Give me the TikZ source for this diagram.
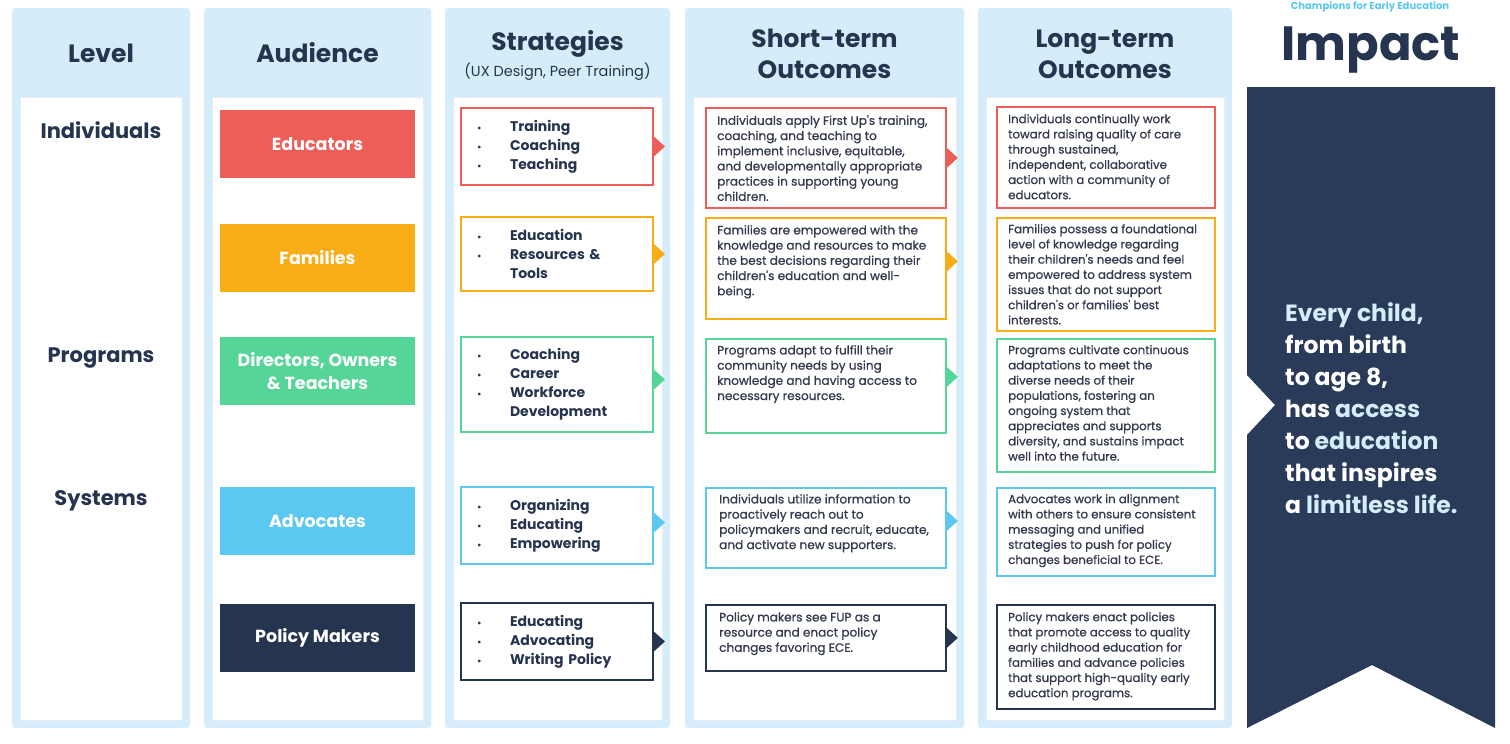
\documentclass[tikz,border=0pt]{standalone}
\usepackage{fontspec}
\setmainfont{Poppins}
\newfontfamily\bodyf[FakeBold=0.8]{Poppins}
\usetikzlibrary{calc}
\definecolor{panel}{HTML}{D5EDFA}
\definecolor{navy}{HTML}{26354F}
\definecolor{cred}{HTML}{EE5E58}
\definecolor{corange}{HTML}{F8AC16}
\definecolor{cgreen}{HTML}{55D598}
\definecolor{cblue}{HTML}{5BC8F2}
\definecolor{ribbon}{HTML}{2A3B5A}
\definecolor{bodytext}{HTML}{333A4D}
\definecolor{lightblue}{HTML}{D3EDFA}
\definecolor{innerline}{HTML}{E6EEF3}
\newcommand{\fs}[2]{\fontsize{#1}{#2}\selectfont}
\newcommand{\bl}[1]{\makebox[33pt][l]{\fs{9}{19}\textbullet}#1}
\newcommand{\nb}[1]{\makebox[33pt][l]{}#1}
\newcommand{\tri}[3]{\fill[#1] ([yshift=#3+10]#2.east) -- ([xshift=11,yshift=#3]#2.east) -- ([yshift=#3-10]#2.east) -- cycle;}
\begin{document}
\begin{tikzpicture}[x=1pt,y=-1pt,
  hdr/.style={text=navy,font=\bfseries\fs{25}{31},align=center},
  lvl/.style={text=navy,font=\bfseries\fs{21}{25}},
  aud/.style={fill=#1,text=white,font=\bfseries\fs{17.5}{23},align=center,minimum width=195,minimum height=68,inner sep=0},
  sbox/.style={draw=#1,line width=1.8pt,fill=white,minimum width=192,align=left,text width=160,inner xsep=16,inner ysep=0,text=navy,font=\bfseries\fs{14}{19}},
  obox/.style={draw=#1,line width=1.8pt,fill=white,inner sep=0},
  stxt/.style={anchor=north west,align=left,text=bodytext,inner sep=0,font=\bodyf\fs{12.1}{15.2}},
  ltxt/.style={anchor=north west,align=left,text=bodytext,inner sep=0,font=\bodyf\fs{11.8}{15.2}}
]
\clip (0,0) rectangle (1510,744);
\fill[white] (0,0) rectangle (1510,744);
% column panels
\foreach \a/\b in {12/190,204/431,445/670,685/964,978/1232}{
  \fill[panel,rounded corners=3] (\a,8) rectangle (\b,728);
  \filldraw[fill=white,draw=innerline,line width=1pt] (\a+8,97) rectangle (\b-8,720);
}
% headers
\node[hdr] (hLevel) at (101,53) {Level};
\node[hdr] (hAud) at (317.5,53) {Audience};
\node[hdr] (hStr) at (557.5,44) {Strategies};
\node[text=navy,font=\fs{14.5}{16}] (hStrSub) at (557.5,72) {(UX Design, Peer Training)};
\node[hdr] (hShort) at (824.5,54) {Short-term\\Outcomes};
\node[hdr] (hLong) at (1105,54) {Long-term\\Outcomes};
\node[text=navy,font=\bfseries\fs{48}{50}] (hImp) at (1371,50) {Impact};
\node[text=cblue,font=\bfseries\fs{10}{12}] (tag) at (1370,7) {Champions for Early Education};
% level labels
\node[lvl] (lInd) at (101,130) {Individuals};
\node[lvl] (lProg) at (101,358) {Programs};
\node[lvl] (lSys) at (101,501) {Systems};
% audience
\node[aud=cred] (aEdu) at (317.5,144) {Educators};
\node[aud=corange] (aFam) at (317.5,257.5) {Families};
\node[aud=cgreen] (aDir) at (317.5,371) {Directors, Owners\\\& Teachers};
\node[aud=cblue] (aAdv) at (317.5,521) {Advocates};
\node[aud=navy] (aPol) at (317.5,638) {Policy Makers};
% strategies
\node[sbox=cred,minimum height=77] (s1) at (557,146.5) {\bl{Training}\\\bl{Coaching}\\\bl{Teaching}};
\node[sbox=corange,minimum height=74] (s2) at (557,254) {\bl{Education}\\\bl{Resources \&}\\\nb{Tools}};
\node[sbox=cgreen,minimum height=95] (s3) at (557,384.5) {\bl{Coaching}\\\bl{Career}\\\bl{Workforce}\\\nb{Development}};
\node[sbox=cblue,minimum height=77] (s4) at (557,525.5) {\bl{Organizing}\\\bl{Educating}\\\bl{Empowering}};
\node[sbox=navy,minimum height=77] (s5) at (557,641.5) {\bl{Educating}\\\bl{Advocating}\\\bl{Writing Policy}};
\tri{cred}{s1}{0}
\tri{corange}{s2}{0}
\tri{cgreen}{s3}{5}
\tri{cblue}{s4}{3}
\tri{navy}{s5}{0}
% short-term outcomes
\node[obox=cred,minimum width=240,minimum height=100,anchor=north west] (o1) at (705,107) {};
\node[obox=corange,minimum width=240,minimum height=101,anchor=north west] (o2) at (705,217) {};
\node[obox=cgreen,minimum width=240,minimum height=94,anchor=north west] (o3) at (705,338) {};
\node[obox=cblue,minimum width=240,minimum height=80,anchor=north west] (o4) at (705,487) {};
\node[obox=navy,minimum width=240,minimum height=66,anchor=north west] (o5) at (705,604) {};
\tri{cred}{o1}{0}
\tri{corange}{o2}{7}
\tri{cgreen}{o3}{9}
\tri{cblue}{o4}{7}
\tri{navy}{o5}{0}
\node[stxt] (o1t) at (717,115) {Individuals apply First Up's training,\\coaching, and teaching to\\implement inclusive, equitable,\\and developmentally appropriate\\practices in supporting young\\children.};
\node[stxt] (o2t) at (717,225) {Families are empowered with the\\knowledge and resources to make\\the best decisions regarding their\\children's education and well-\\being.};
\node[stxt] (o3t) at (717,345) {Programs adapt to fulfill their\\community needs by using\\knowledge and having access to\\necessary resources.};
\node[stxt] (o4t) at (719,494) {Individuals utilize information to\\proactively reach out to\\policymakers and recruit, educate,\\and activate new supporters.};
\node[stxt] (o5t) at (719,612) {Policy makers see FUP as a\\resource and enact policy\\changes favoring ECE.};
% long-term outcomes
\node[obox=cred,minimum width=218,minimum height=101,anchor=north west] (l1) at (996,106) {};
\node[obox=corange,minimum width=218,minimum height=113,anchor=north west] (l2) at (996,217) {};
\node[obox=cgreen,minimum width=218,minimum height=133,anchor=north west] (l3) at (996,338) {};
\node[obox=cblue,minimum width=218,minimum height=88,anchor=north west] (l4) at (996,487) {};
\node[obox=navy,minimum width=218,minimum height=104,anchor=north west] (l5) at (996,604) {};
\node[ltxt] (l1t) at (1008,114) {Individuals continually work\\toward raising quality of care\\through sustained,\\independent, collaborative\\action with a community of\\educators.};
\node[ltxt] (l2t) at (1008,224) {Families possess a foundational\\level of knowledge regarding\\their children's needs and feel\\empowered to address system\\issues that do not support\\children's or families' best\\interests.};
\node[ltxt] (l3t) at (1008,345) {Programs cultivate continuous\\adaptations to meet the\\diverse needs of their\\populations, fostering an\\ongoing system that\\appreciates and supports\\diversity, and sustains impact\\well into the future.};
\node[ltxt] (l4t) at (1008,494) {Advocates work in alignment\\with others to ensure consistent\\messaging and unified\\strategies to push for policy\\changes beneficial to ECE.};
\node[ltxt] (l5t) at (1008,612) {Policy makers enact policies\\that promote access to quality\\early childhood education for\\families and advance policies\\that support high-quality early\\education programs.};
% impact ribbon
\fill[ribbon] (1247,87) -- (1495,87) -- (1495,728) -- (1372,665) -- (1247,728) -- (1247,435) -- (1275,405) -- (1247,375) -- cycle;
\node[anchor=north west,align=left,inner sep=0,text=white,font=\bfseries\fs{23.5}{32}] (impT) at (1285,302)
 {\textcolor{lightblue}{Every child,}\\from birth\\to age 8,\\has \textcolor{lightblue}{access}\\to \textcolor{lightblue}{education}\\that inspires\\a \textcolor{lightblue}{limitless life.}};
\end{tikzpicture}
\end{document}
